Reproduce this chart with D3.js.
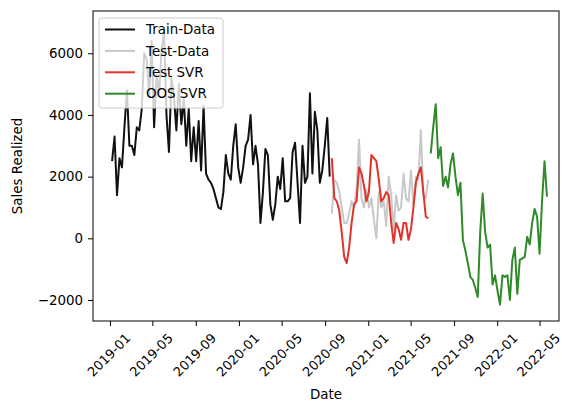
<!DOCTYPE html>
<html>
<head>
<meta charset="utf-8">
<script src="https://cdn.jsdelivr.net/npm/d3@7"></script>
<style>
  html, body { margin: 0; padding: 0; background: #fff; }
  svg text { font-family: "DejaVu Sans", sans-serif; fill: #000; }
</style>
</head>
<body>
<svg id="chart" width="562" height="403"></svg>
<script>
// weekly sales
const trainStart = '2019-01-07';
const trainValues = [2500, 3300, 1400, 2600, 2300, 3600, 4800, 3000, 3000, 2700,
  3600, 3500, 4200, 6000, 5800, 4600, 6400, 3600, 5300, 4700,
  6100, 6700, 4000, 2800, 5200, 4600, 3500, 5000, 3700, 4500,
  3000, 4200, 2500, 3600, 2500, 3800, 2200, 4300, 2100, 1900,
  1800, 1600, 1300, 1000, 950, 1500, 2700, 2100, 1900, 3000,
  3700, 2300, 1800, 2300, 3000, 3200, 4000, 2400, 3000, 2400,
  500, 1500, 2900, 2700, 1100, 600, 1100, 2000, 1600, 2600,
  1200, 1200, 1300, 2800, 3100, 1800, 500, 3000, 1800, 2000,
  4700, 2100, 4100, 3500, 1800, 2200, 3000, 3900, 2000];

const testStart = '2020-09-20';
const testValues = [800, 1900, 1800, 1500, 1000, 500, 500, 800, 1200, 1000,
  1600, 3200, 1300, 1000, 1600, 1000, 1300, 600, 0, 1500,
  1000, 1200, 400, 2000, 1400, 300, 1400, 900, 1000, 2100,
  1300, 1200, 2200, 1100, 2000, 1900, 3500, 1400, 1300, 1900];
const testSvrValues = [2600, 1300, 1200, 900, 200, -600, -800, -300, 500, 1100,
  1200, 2300, 2100, 1700, 1200, 1500, 2700, 2600, 2500, 1900,
  1200, 1300, 1500, 1400, 500, -150, 500, 300, -50, 500,
  500, -50, 300, 1000, 1800, 2100, 2300, 1500, 700, 650];

const oosStart = '2021-06-27';
const oosSvrValues = [2750, 3600, 4350, 2600, 2950, 1700, 2000, 1650, 2400, 2750,
  2000, 1400, 1800, -50, -400, -800, -1250, -1350, -1600, -1900,
  200, 1450, 200, -300, -200, -1500, -1200, -1700, -2150, -1200,
  -1250, -1200, -2000, -700, -300, -1800, -700, -650, -600, 50,
  -200, 500, 950, 700, -500, 1200, 2500, 1350];

const xTickLabels = ['2019-01', '2019-05', '2019-09', '2020-01', '2020-05', '2020-09',
  '2021-01', '2021-05', '2021-09', '2022-01', '2022-05'];
const yTicks = [-2000, 0, 2000, 4000, 6000];

const seriesNames = ['Train-Data', 'Test-Data', 'Test SVR', 'OOS SVR'];
const seriesColors = ['#111111', '#c8c8c8', '#e2332a', '#2f8a2a'];

const parse = d3.utcParse('%Y-%m-%d');
const parseMonth = d3.utcParse('%Y-%m');

function weekly(start, values) {
  const t0 = parse(start);
  return values.map((v, i) => ({ date: d3.utcDay.offset(t0, i * 7), value: v }));
}

const series = [
  weekly(trainStart, trainValues),
  weekly(testStart, testValues),
  weekly(testStart, testSvrValues),
  weekly(oosStart, oosSvrValues)
];

const M = { left: 93, top: 11, right: 559, bottom: 321 };
const FONT = 13.4;

const svg = d3.select('#chart');

const x = d3.scaleUtc()
  .domain([parse('2018-11-14'), parse('2022-06-25')])
  .range([M.left, M.right]);
const y = d3.scaleLinear()
  .domain([-2680, 7370])
  .range([M.bottom, M.top]);

// lines
const line = d3.line().x(d => x(d.date)).y(d => y(d.value));
const plot = svg.append('g');
series.forEach((s, i) => {
  plot.append('path')
    .datum(s)
    .attr('fill', 'none')
    .attr('stroke', seriesColors[i])
    .attr('stroke-width', 2)
    .attr('stroke-linejoin', 'round')
    .attr('d', line);
});

// frame
svg.append('rect')
  .attr('x', M.left).attr('y', M.top)
  .attr('width', M.right - M.left).attr('height', M.bottom - M.top)
  .attr('fill', 'none').attr('stroke', '#000').attr('stroke-width', 1);

// x axis
const xTicks = xTickLabels.map(parseMonth);
const xAxis = svg.append('g')
  .attr('transform', `translate(0,${M.bottom})`)
  .call(d3.axisBottom(x).tickValues(xTicks).tickSize(5).tickFormat(''));
xAxis.select('.domain').remove();
xAxis.selectAll('.tick line').attr('stroke', '#000');
xTicks.forEach((t, i) => {
  const cx = x(t) - 1, cy = M.bottom + 34;
  svg.append('text')
    .attr('x', cx).attr('y', cy)
    .attr('dy', '0.35em')
    .attr('text-anchor', 'middle')
    .attr('font-size', 13)
    .attr('transform', `rotate(-45,${cx},${cy})`)
    .text(xTickLabels[i]);
});

// y axis
const yAxis = svg.append('g')
  .attr('transform', `translate(${M.left},0)`)
  .call(d3.axisLeft(y).tickValues(yTicks).tickSize(5).tickPadding(5)
    .tickFormat(d => d < 0 ? '\u2212' + Math.abs(d) : String(d)));
yAxis.select('.domain').remove();
yAxis.selectAll('.tick line').attr('stroke', '#000');
yAxis.selectAll('.tick text')
  .attr('font-size', FONT)
  .attr('font-family', '"DejaVu Sans", sans-serif')
  .attr('fill', '#000');

// axis labels
svg.append('text')
  .attr('x', (M.left + M.right) / 2).attr('y', 399)
  .attr('text-anchor', 'middle').attr('font-size', FONT)
  .text('Date');
svg.append('text')
  .attr('transform', `translate(22,${(M.top + M.bottom) / 2}) rotate(-90)`)
  .attr('text-anchor', 'middle').attr('font-size', FONT)
  .text('Sales Realized');

// legend
const lg = svg.append('g').attr('transform', 'translate(99,18)');
lg.append('rect')
  .attr('width', 124).attr('height', 90).attr('rx', 3)
  .attr('fill', 'rgba(255,255,255,0.8)')
  .attr('stroke', '#cccccc').attr('stroke-width', 1);
seriesNames.forEach((name, i) => {
  const yy = 11.5 + i * 21.4;
  lg.append('line')
    .attr('x1', 6).attr('x2', 36).attr('y1', yy).attr('y2', yy)
    .attr('stroke', seriesColors[i]).attr('stroke-width', 2);
  lg.append('text')
    .attr('x', 47).attr('y', yy).attr('dy', '0.35em')
    .attr('font-size', FONT)
    .text(name);
});
</script>
</body>
</html>
